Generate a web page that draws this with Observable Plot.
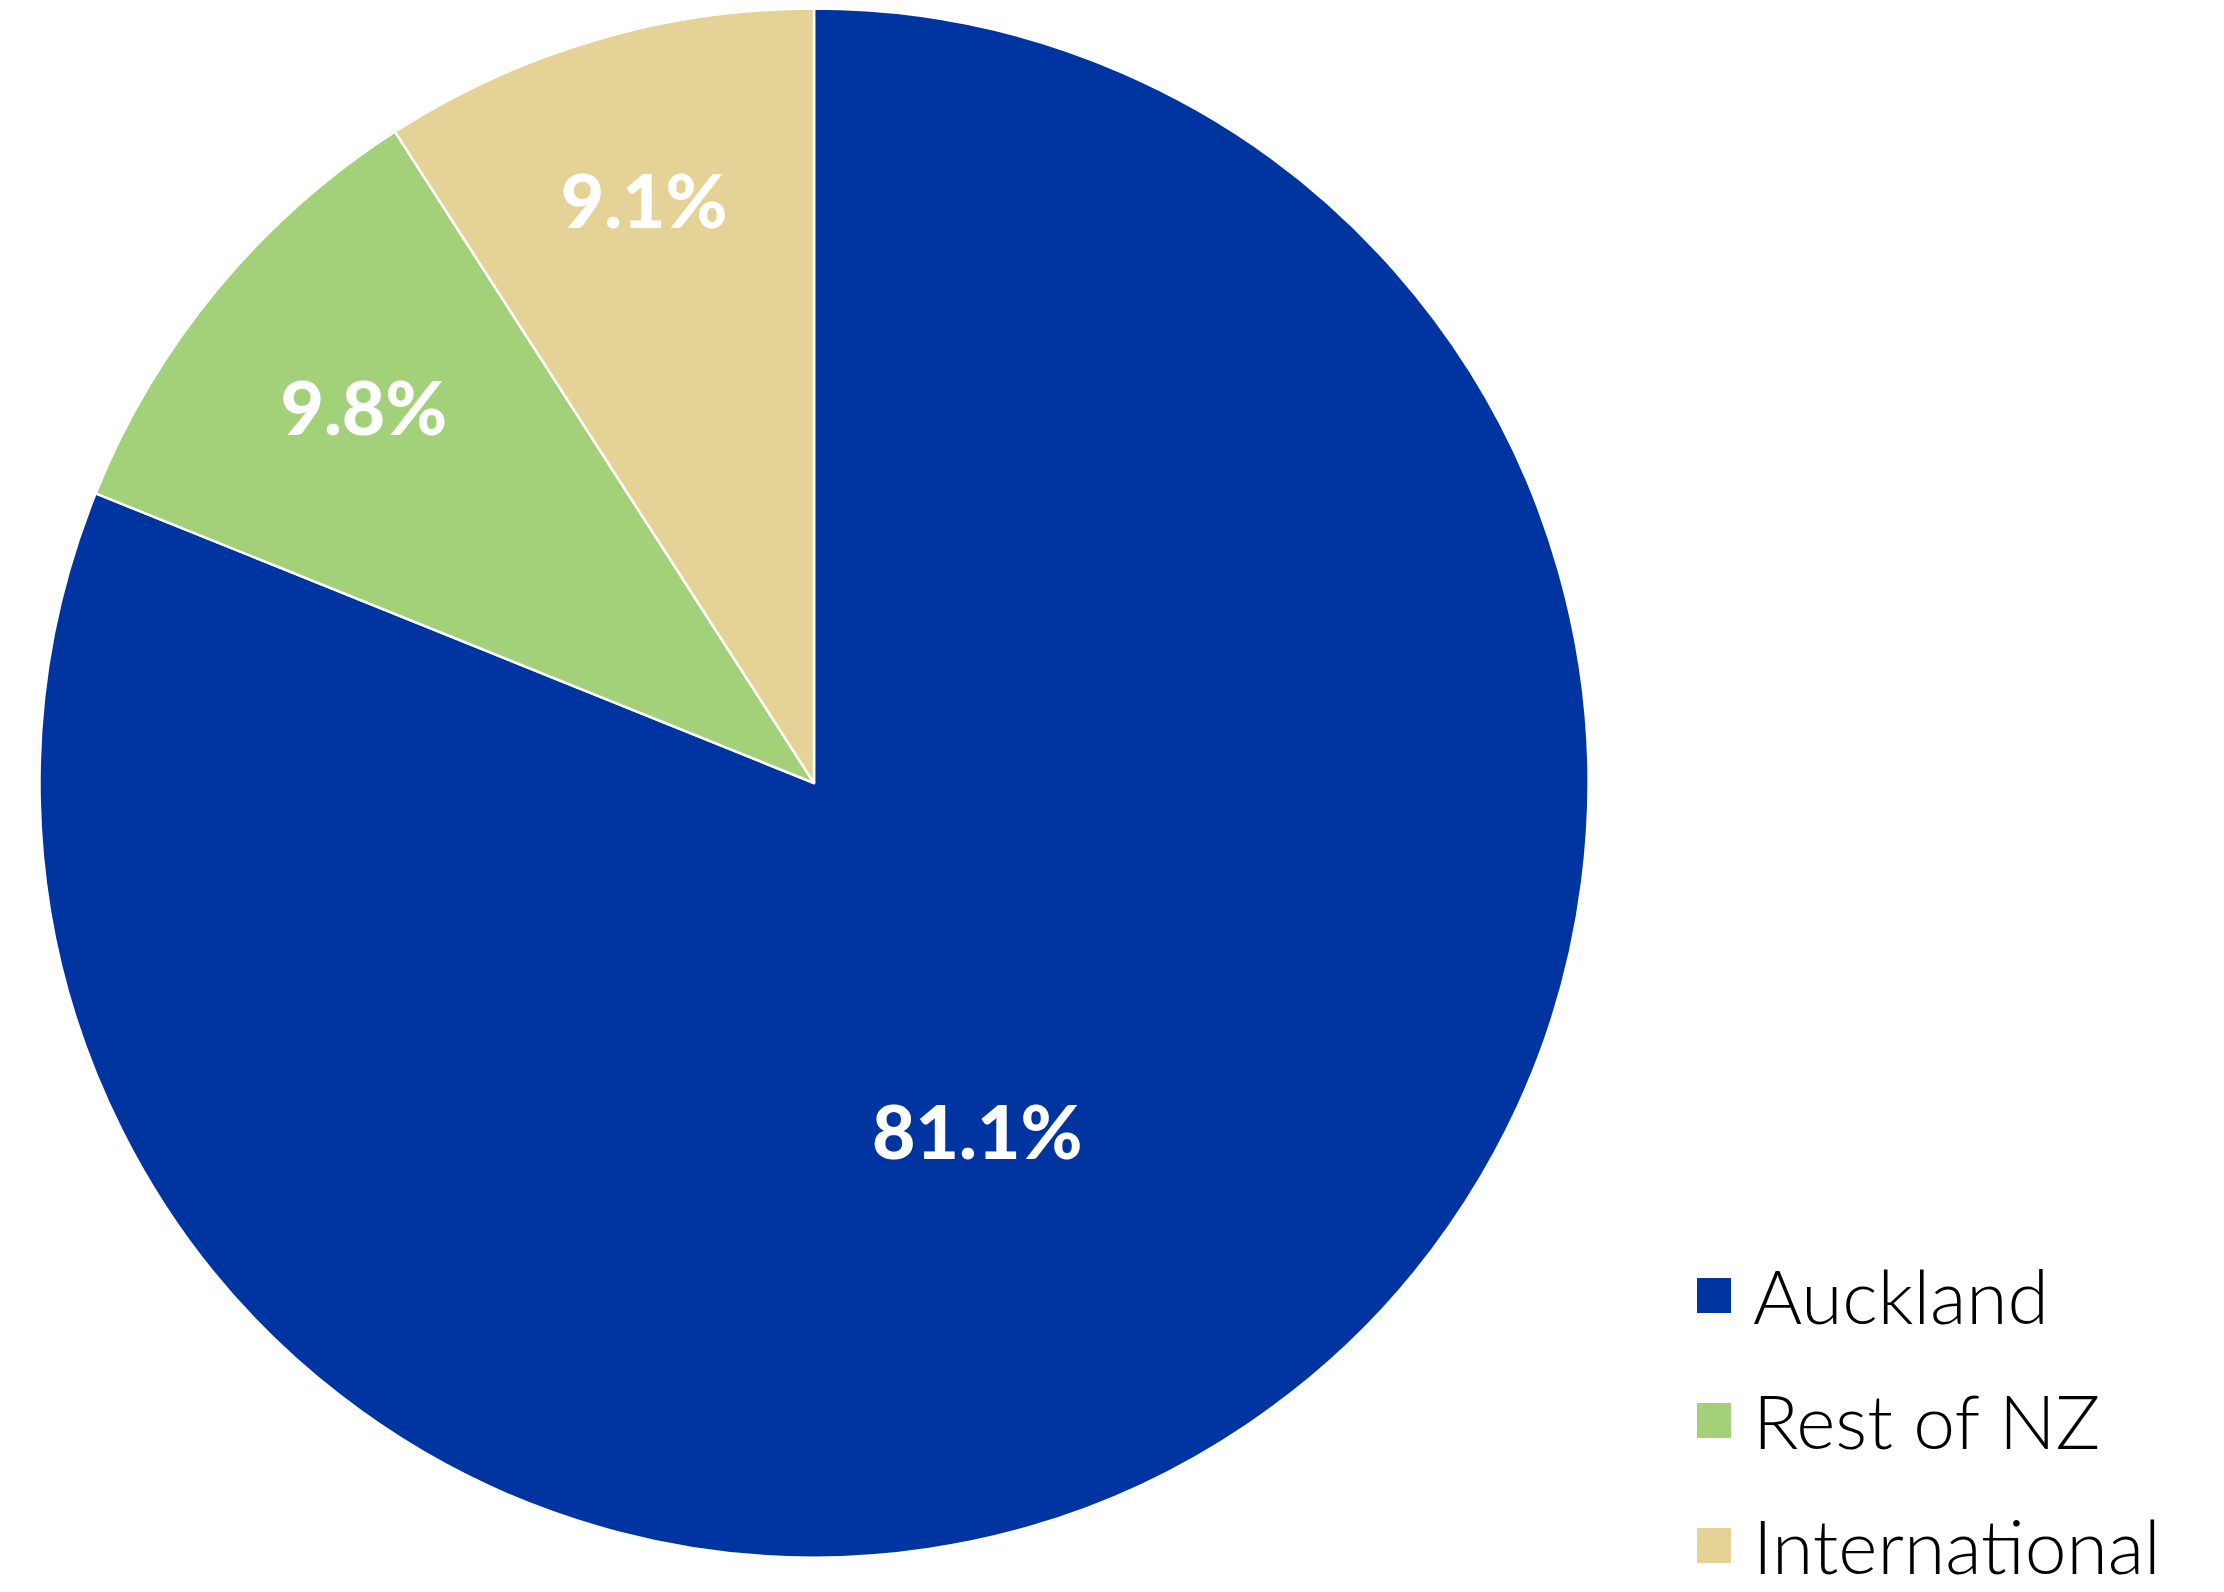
<!DOCTYPE html>
<html><head><meta charset="utf-8">
<script src="https://cdn.jsdelivr.net/npm/d3@7"></script>
<script src="https://cdn.jsdelivr.net/npm/@observablehq/plot@0.6"></script>
<style>
html,body{margin:0;padding:0;background:#fff;}
#wrap{position:relative;width:2224px;height:1592px;overflow:hidden;background:#fff;}
#chart{position:absolute;left:0;top:0;}
#legend{position:absolute;left:1697px;top:1267px;display:flex;flex-direction:column;gap:69px;font-family:Lato,sans-serif;font-weight:300;font-size:75px;color:#000;}
.row{display:flex;align-items:center;height:56px;line-height:56px;white-space:nowrap;}
.sw{width:34px;height:35px;margin-right:22px;flex:none;}
</style></head><body><div id="wrap"><div id="chart"></div><div id="legend"></div></div>
<script>
const categories = ["Auckland", "Rest of NZ", "International"];
const shares = [81.1, 9.8, 9.1];
const labels = ["81.1%", "9.8%", "9.1%"];
const colors = ["#0035A1", "#A2D17A", "#E5D296"];

const data = categories.map((c, i) => ({category: c, value: shares[i], label: labels[i]}));
const pie = d3.pie().sort(null).value(d => d.value)(data);
const color = d3.scaleOrdinal(categories, colors);

// label placement (layout): fraction of radius and angle shift (radians)
const labelRadius = [0.5, 0.755, 0.78];
const labelAngleShift = [0.16, 0, 0];
const labelData = pie.map((a, i) => {
  const m = (a.startAngle + a.endAngle) / 2 + labelAngleShift[i];
  const r = labelRadius[i];
  return {label: a.data.label, x: r * Math.sin(m), y: r * Math.cos(m)};
});

function pieMark(...args) {
  const scales = args.find(a => a && typeof a.x === "function" && typeof a.y === "function");
  const cx = scales.x(0), cy = scales.y(0), r = Math.abs(scales.x(1) - scales.x(0));
  const arc = d3.arc().innerRadius(0).outerRadius(r);
  const g = d3.create("svg:g").attr("transform", `translate(${cx},${cy})`);
  g.selectAll("path").data(pie).join("path")
    .attr("d", arc)
    .attr("fill", d => color(d.data.category))
    .attr("stroke", "#fff")
    .attr("stroke-width", 2.5)
    .attr("stroke-linejoin", "round");
  return g.node();
}

const W = 1632, H = 1592;
const plot = Plot.plot({
  width: W, height: H,
  marginLeft: 39.5, marginRight: W - 1588.5, marginTop: 8.5, marginBottom: H - 1557.5,
  x: {domain: [-1, 1], axis: null},
  y: {domain: [-1, 1], axis: null},
  style: {background: "transparent"},
  marks: [
    pieMark,
    Plot.text(labelData, {x: "x", y: "y", text: "label", fill: "white", fontSize: 75, fontWeight: 900, fontFamily: "Lato"})
  ]
});
document.getElementById("chart").appendChild(plot);

const legend = d3.select("#legend");
const rows = legend.selectAll("div.row").data(categories).join("div").attr("class", "row");
rows.append("div").attr("class", "sw").style("background", d => color(d));
rows.append("span").text(d => d);
</script>
</body></html>
